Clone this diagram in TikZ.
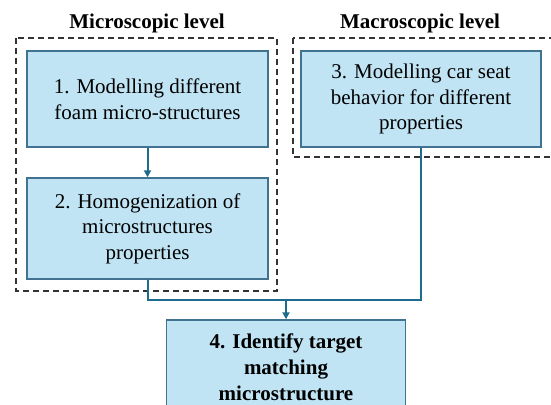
\documentclass[tikz,border=0pt]{standalone}
\usepackage{fontspec}
\setmainfont{Liberation Serif}
\usetikzlibrary{arrows.meta,positioning}
\definecolor{boxfill}{HTML}{C0E4F4}
\definecolor{boxline}{HTML}{41728F}
\definecolor{conn}{HTML}{1F6A8F}
\definecolor{dashc}{HTML}{333333}
\begin{document}
\begin{tikzpicture}[x=1pt,y=-1pt,
  stepbox/.style={draw=boxline,fill=boxfill,line width=1.4pt,align=center,inner sep=0pt,
    font=\fontsize{21}{25.5}\selectfont},
  groupbox/.style={draw=dashc,line width=1.2pt,dash pattern=on 6pt off 4pt},
  title/.style={font=\fontsize{21}{25}\selectfont\bfseries},
  conline/.style={draw=conn,line width=2pt},
  conarrow/.style={conline,-{Triangle[width=7pt,length=7pt]}}]
\useasboundingbox (0,0) rectangle (551,404);
\clip (0,0) rectangle (551,404);
\draw[groupbox] (16,38) rectangle (277,291);
\draw[groupbox] (293,38) rectangle (570,157);
\node[title] (t1) at (147,23) {Microscopic level};
\node[title] (t2) at (420,23) {Macroscopic level};
\node[stepbox,minimum width=241pt,minimum height=96pt] (b1) at (147.5,99)
  {1. Modelling different\\foam micro-structures};
\node[stepbox,minimum width=241pt,minimum height=101pt] (b2) at (147.5,228.5)
  {2. Homogenization of\\microstructures\\properties};
\node[stepbox,minimum width=240pt,minimum height=96pt] (b3) at (421,99)
  {3. Modelling car seat\\behavior for different\\properties};
\node[stepbox,font=\fontsize{21}{26}\selectfont\bfseries,minimum width=239pt,minimum height=94pt] (b4) at (286,367)
  {4. Identify target\\matching\\microstructure};
\coordinate (j) at (286,300);
\draw[conarrow] (b1.south) -- (b2.north);
\draw[conline] (b2.south) |- (j);
\draw[conline] (b3.south) |- (j);
\draw[conarrow] (j) -- (b4.north);
\end{tikzpicture}
\end{document}
